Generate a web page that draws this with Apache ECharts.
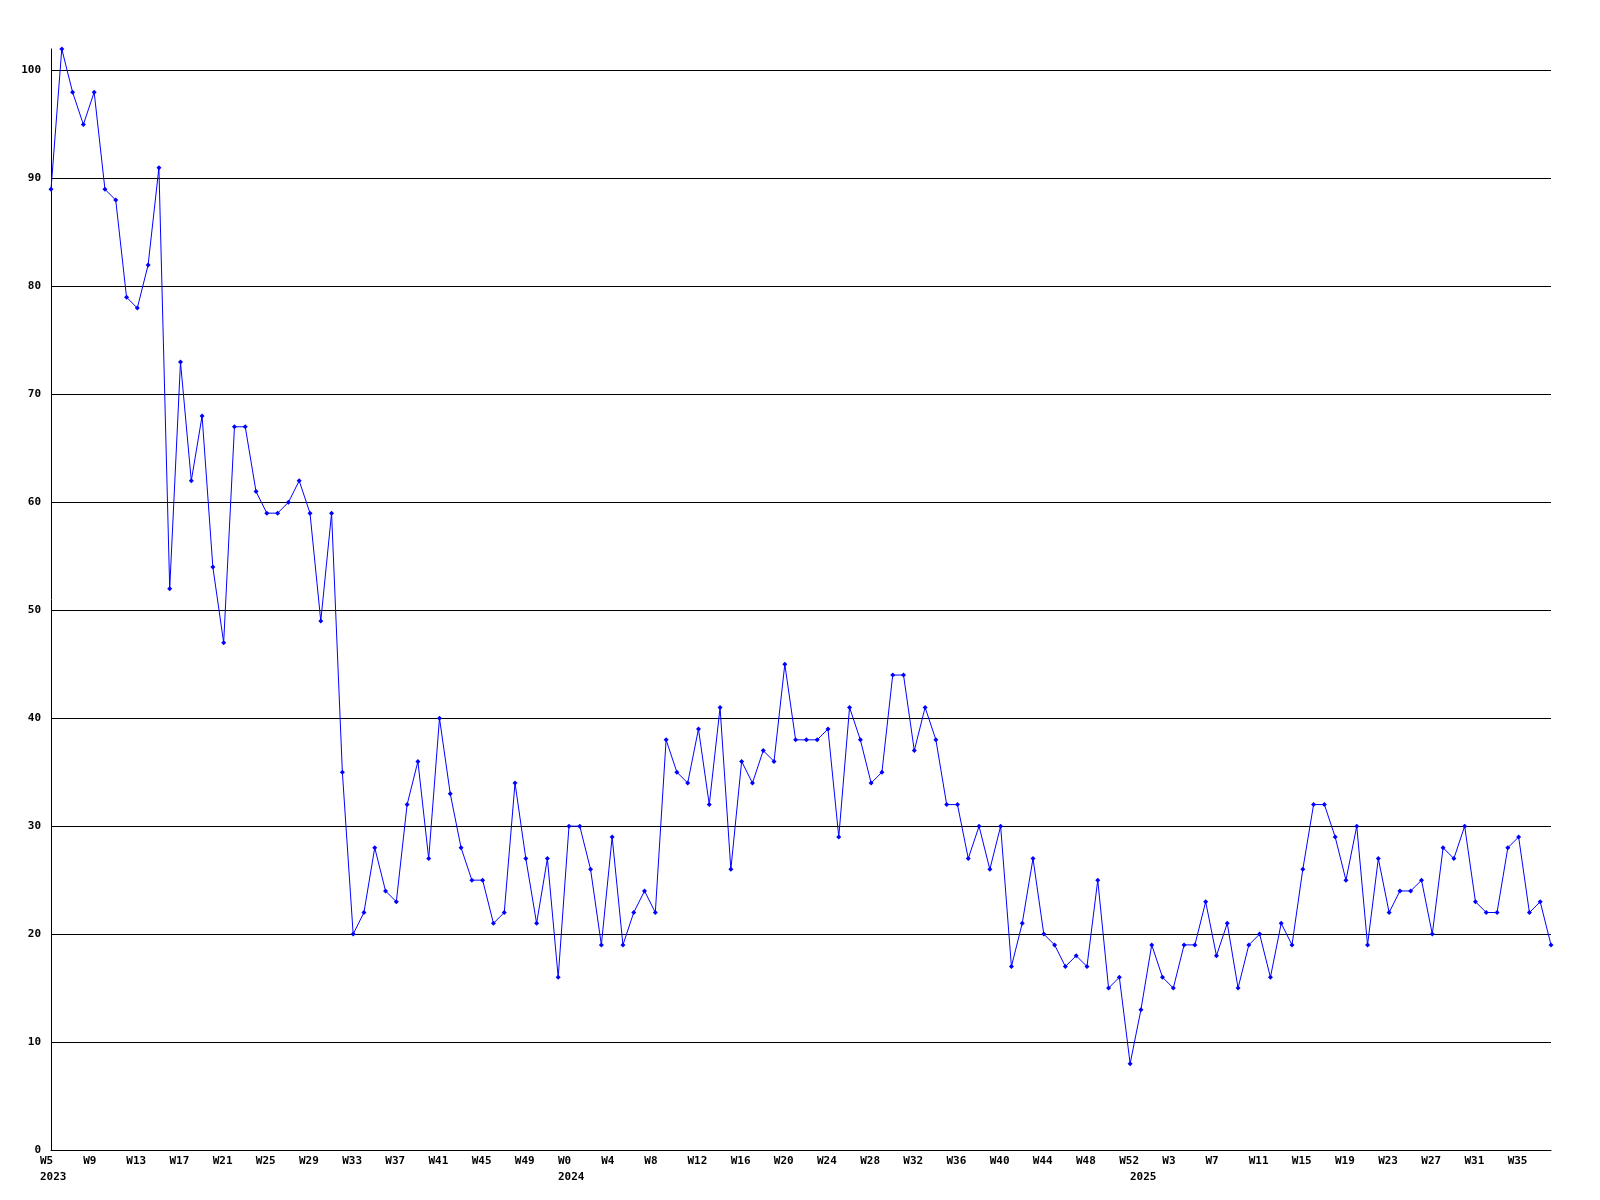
<!DOCTYPE html>
<html>
<head>
<meta charset="utf-8">
<script src="https://cdn.jsdelivr.net/npm/echarts@6/dist/echarts.min.js"></script>
<style>
html,body{margin:0;padding:0;background:#fff;}
#chart{width:1600px;height:1200px;}
</style>
</head>
<body>
<div id="chart"></div>
<script>
// Week labels per year
const weeks2023 = ["W5","W6","W7","W8","W9","W10","W11","W12","W13","W14","W15","W16","W17","W18","W19","W20","W21","W22","W23","W24","W25","W26","W27","W28","W29","W30","W31","W32","W33","W34","W35","W36","W37","W38","W39","W40","W41","W42","W43","W44","W45","W46","W47","W48","W49","W50","W51","W52"];
const weeks2024 = ["W0","W1","W2","W3","W4","W5","W6","W7","W8","W9","W10","W11","W12","W13","W14","W15","W16","W17","W18","W19","W20","W21","W22","W23","W24","W25","W26","W27","W28","W29","W30","W31","W32","W33","W34","W35","W36","W37","W38","W39","W40","W41","W42","W43","W44","W45","W46","W47","W48","W49","W50","W51","W52"];
const weeks2025 = ["W0","W1","W2","W3","W4","W5","W6","W7","W8","W9","W10","W11","W12","W13","W14","W15","W16","W17","W18","W19","W20","W21","W22","W23","W24","W25","W26","W27","W28","W29","W30","W31","W32","W33","W34","W35","W36","W37","W38"];
const yearLabels = ["2023","2024","2025"];

// Values
const values2023 = [89,102,98,95,98,89,88,79,78,82,91,52,73,62,68,54,47,67,67,61,59,59,60,62,59,49,59,35,20,22,28,24,23,32,36,27,40,33,28,25,25,21,22,34,27,21,27,16];
const values2024 = [30,30,26,19,29,19,22,24,22,38,35,34,39,32,41,26,36,34,37,36,45,38,38,38,39,29,41,38,34,35,44,44,37,41,38,32,32,27,30,26,30,17,21,27,20,19,17,18,17,25,15,16,8];
const values2025 = [13,19,16,15,19,19,23,18,21,15,19,20,16,21,19,26,32,32,29,25,30,19,27,22,24,24,25,20,28,27,30,23,22,22,28,29,22,23,19];

const yTicks = [0,10,20,30,40,50,60,70,80,90,100];

const categories = weeks2023.concat(weeks2024, weeks2025);
const values = values2023.concat(values2024, values2025);
const yearStart = {};
yearStart[0] = yearLabels[0];
yearStart[weeks2023.length] = yearLabels[1];
yearStart[weeks2023.length + weeks2024.length] = yearLabels[2];

const FONT = "'DejaVu Sans Mono', monospace";
const chart = echarts.init(document.getElementById('chart'), null, {renderer:'canvas'});
chart.setOption({
  animation: false,
  backgroundColor: '#ffffff',
  grid: {left: 51, right: 49, top: 49, bottom: 50, containLabel: false},
  xAxis: [{
    type: 'category',
    data: categories,
    boundaryGap: false,
    axisLine: {show: true, lineStyle: {color: '#000', width: 1}},
    axisTick: {show: false},
    splitLine: {show: false},
    axisLabel: {
      interval: 3,
      margin: 6,
      color: '#000',
      fontFamily: FONT,
      fontWeight: 'bold',
      fontSize: 11,
      formatter: function (v) { return '{a|' + v + '}'; },
      rich: {a: {width: 22, align: 'left', fontFamily: FONT, fontWeight: 'bold', fontSize: 11, color: '#000'}}
    }
  }, {
    type: 'category',
    data: categories,
    position: 'bottom',
    offset: 16,
    boundaryGap: false,
    axisLine: {show: false},
    axisTick: {show: false},
    splitLine: {show: false},
    axisLabel: {
      interval: function (idx) { return yearStart[idx] !== undefined; },
      margin: 6,
      color: '#000',
      fontFamily: FONT,
      fontWeight: 'bold',
      fontSize: 11,
      formatter: function (v, idx) { return '{a|' + (yearStart[idx] || '') + '}'; },
      rich: {a: {width: 22, align: 'left', fontFamily: FONT, fontWeight: 'bold', fontSize: 11, color: '#000'}}
    }
  }],
  yAxis: {
    type: 'value',
    min: yTicks[0],
    max: 102,
    interval: 10,
    axisLine: {show: true, lineStyle: {color: '#000', width: 1}},
    axisTick: {show: false},
    splitLine: {show: true, showMaxLine: false, lineStyle: {color: '#000', width: 1}},
    axisLabel: {
      showMaxLabel: false,
      margin: 10,
      color: '#000',
      fontFamily: FONT,
      fontWeight: 'bold',
      fontSize: 11,
      formatter: function (v) { return yTicks.indexOf(v) >= 0 ? String(v) : ''; }
    }
  },
  series: [{
    type: 'line',
    data: values,
    xAxisIndex: 0,
    symbol: 'diamond',
    symbolSize: 5,
    showAllSymbol: true,
    lineStyle: {color: '#0000ff', width: 1},
    itemStyle: {color: '#0000ff'},
    emphasis: {disabled: true}
  }]
});
</script>
</body>
</html>
